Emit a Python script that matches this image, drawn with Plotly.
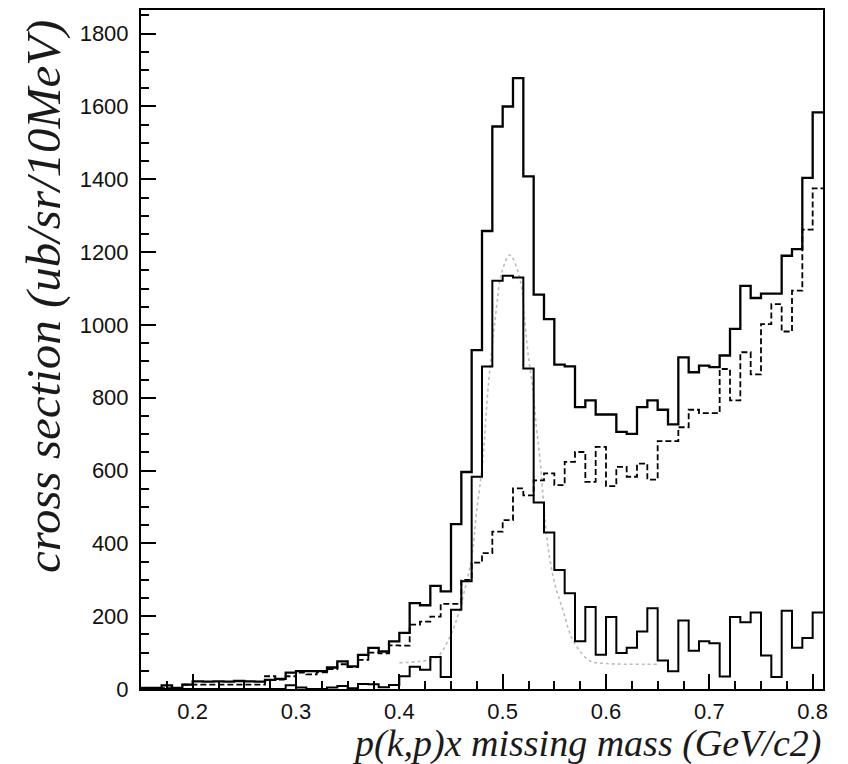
import plotly.graph_objects as go

# bin left edges (10 MeV bins), 0.15 .. 0.80
bin_edges = [round(0.15 + 0.01 * i, 2) for i in range(67)]

total = [3, 3, 10, 3, 12, 21, 20, 21, 20, 22, 21, 20, 25, 28, 45, 49, 49, 49, 59, 76,
         62, 94, 113, 103, 131, 154, 236, 230, 283, 268, 453, 596, 931, 1258, 1545, 1600,
         1678, 1408, 1083, 1016, 891, 886, 774, 793, 754, 754, 706, 701, 774, 793, 767,
         727, 911, 870, 888, 884, 916, 989, 1107, 1074, 1086, 1086, 1190, 1208, 1404, 1584]

background = [2, 2, 2, 2, 12, 12, 12, 12, 12, 12, 12, 12, 35, 26, 35, 45, 40, 46, 55, 68,
              60, 80, 100, 98, 120, 119, 177, 185, 199, 234, 234, 300, 347, 373, 432, 464,
              551, 532, 573, 592, 560, 624, 651, 569, 665, 557, 610, 583, 619, 575, 681,
              681, 719, 767, 758, 758, 879, 793, 925, 864, 1002, 1057, 982, 1094, 1262, 1375]

signal = [0, 0, 0, 0, 0, 0, 0, 0, 0, 0, 0, 0, 0, 0, 10, 4, 0, 0, 4, 8,
          2, 14, 13, 5, 11, 35, 61, 53, 88, 33, 218, 296, 583, 886, 1121, 1135,
          1130, 880, 512, 430, 327, 263, 131, 225, 94, 198, 99, 113, 158, 222, 78,
          49, 188, 105, 131, 126, 34, 198, 183, 210, 92, 33, 215, 113, 140, 210]

fit_x = [0.400, 0.420, 0.436, 0.447, 0.455, 0.463, 0.470, 0.4745, 0.481, 0.4857, 0.494,
         0.4987, 0.5068, 0.5165, 0.5214, 0.5246, 0.5294, 0.5327, 0.536, 0.5424, 0.549,
         0.5586, 0.5683, 0.5845, 0.600, 0.652]
fit_y = [72, 76, 86, 132, 187, 269, 361, 480, 635, 820, 1047,
         1140, 1192, 1130, 1011, 920, 819, 718, 635, 425, 306,
         214, 132, 77, 70, 68]

y_ticks = list(range(0, 1801, 200))
x_ticks = [0.2, 0.3, 0.4, 0.5, 0.6, 0.7, 0.8]
x_title = "p(k,p)x missing mass (GeV/c2)"
y_title = "cross section (ub/sr/10MeV)"


def steps(vals):
    return list(vals) + [vals[-1]]


fig = go.Figure()
fig.add_trace(go.Scatter(x=fit_x, y=fit_y, mode="lines", line_shape="spline",
                         line=dict(color="#bcbcbc", width=1.6, dash="dot"), showlegend=False))
fig.add_trace(go.Scatter(x=bin_edges, y=steps(background), mode="lines", line_shape="hv",
                         line=dict(color="black", width=1.8, dash="6px,3px"), showlegend=False))
fig.add_trace(go.Scatter(x=bin_edges, y=steps(signal), mode="lines", line_shape="hv",
                         line=dict(color="black", width=2), showlegend=False))
fig.add_trace(go.Scatter(x=bin_edges, y=steps(total), mode="lines", line_shape="hv",
                         line=dict(color="black", width=2.3), showlegend=False))

fig.update_layout(
    width=848, height=764,
    margin=dict(l=141, r=25, t=8, b=75),
    paper_bgcolor="white", plot_bgcolor="white",
    font=dict(family="Liberation Sans, Arial, sans-serif", color="#111111"),
    showlegend=False,
)
fig.update_xaxes(
    range=[0.15, 0.81], tickvals=x_ticks, ticktext=[f"{v:.1f}" for v in x_ticks],
    ticks="inside", ticklen=15, tickwidth=2, tickcolor="black",
    minor=dict(dtick=0.025, tick0=0.0, ticks="inside", ticklen=8, tickwidth=1.6, tickcolor="black"),
    showline=True, linewidth=2, linecolor="black", mirror=True,
    showgrid=False, zeroline=False, ticklabelstandoff=2,
    tickfont=dict(size=22, family="Liberation Sans, Arial, sans-serif", color="#111111"),
)
fig.update_yaxes(
    range=[0, 1865], tickvals=y_ticks, ticktext=[str(v) for v in y_ticks],
    ticks="inside", ticklen=15, tickwidth=2, tickcolor="black",
    minor=dict(dtick=50, tick0=0, ticks="inside", ticklen=8, tickwidth=1.6, tickcolor="black"),
    showline=True, linewidth=2, linecolor="black", mirror=True,
    showgrid=False, zeroline=False, ticklabelstandoff=6,
    tickfont=dict(size=22, family="Liberation Sans, Arial, sans-serif", color="#111111"),
)
fig.add_annotation(text=x_title, xref="paper", yref="paper", x=1.0, y=0, xanchor="right",
                   yanchor="top", yshift=-31, showarrow=False,
                   font=dict(family="Liberation Serif, Times New Roman, serif", size=38, color="#1a1a1a",
                             style="italic"))
fig.add_annotation(text=y_title, xref="paper", yref="paper", x=0, y=1.0, xanchor="right",
                   yanchor="top", xshift=-68, yshift=-8, textangle=-90, showarrow=False,
                   font=dict(family="Liberation Serif, Times New Roman, serif", size=49, color="#1a1a1a",
                             style="italic"))

fig.write_html("out.html")
